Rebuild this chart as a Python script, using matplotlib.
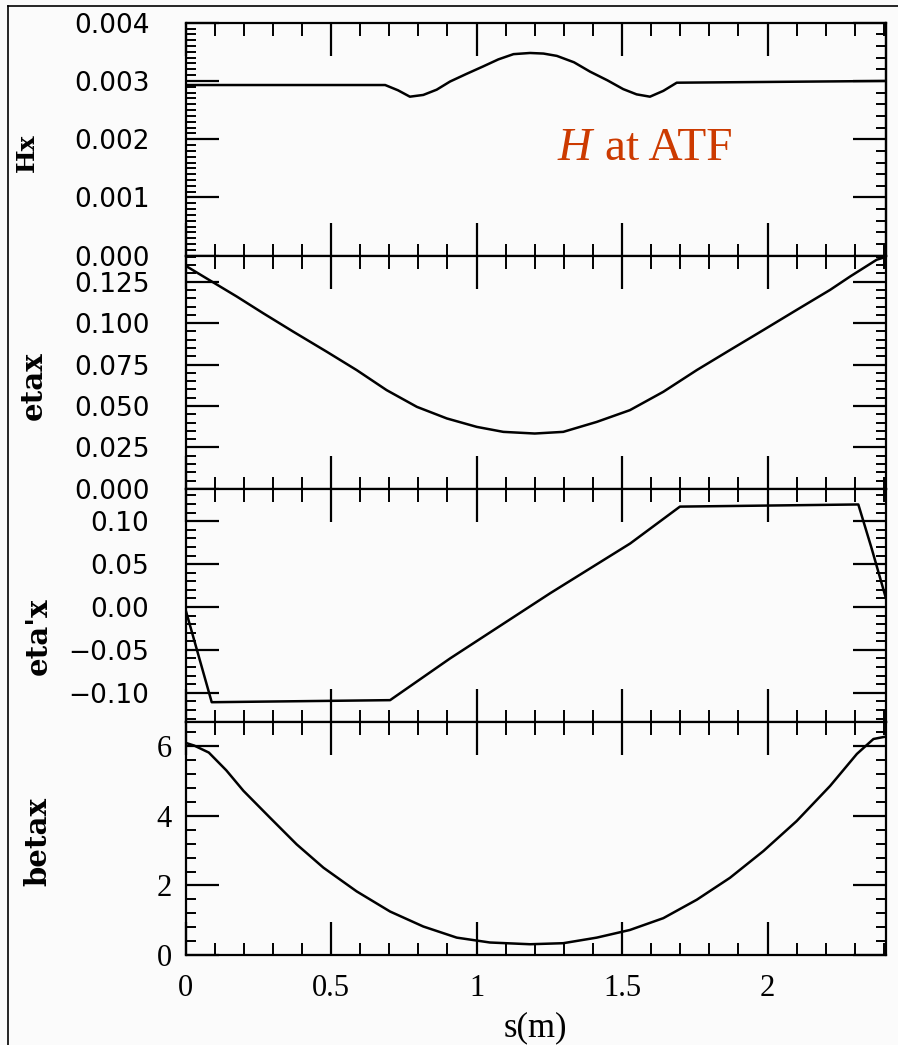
"""
Lattice functions (Hx, etax, eta'x, betax) along s for the ATF cell.
Four stacked panels sharing the s axis, scanned-plot look.
"""

import matplotlib
matplotlib.use('Agg')  # no display
import matplotlib.pyplot as plt
from matplotlib.ticker import MultipleLocator, FuncFormatter, NullFormatter
from matplotlib.lines import Line2D

# ---- data ----
s_hx = [0.0, 0.686, 0.730, 0.771, 0.817, 0.863, 0.909, 0.965, 1.023, 1.075,
        1.127, 1.184, 1.230, 1.276, 1.335, 1.390, 1.450, 1.504, 1.550, 1.596,
        1.642, 1.688, 2.407]
hx = [0.00293, 0.00293, 0.00284, 0.00273, 0.00276, 0.00285, 0.00299, 0.00312,
      0.00325, 0.00337, 0.00346, 0.00348, 0.00347, 0.00343, 0.00332, 0.00316,
      0.00301, 0.00286, 0.00277, 0.00273, 0.00283, 0.00297, 0.00300]

s_eta = [0.0, 0.084, 0.176, 0.267, 0.370, 0.485, 0.588, 0.691, 0.795, 0.898,
         1.001, 1.092, 1.200, 1.298, 1.413, 1.527, 1.642, 1.757, 1.871, 1.986,
         2.100, 2.215, 2.284, 2.375, 2.407]
etax = [0.1347, 0.1258, 0.1161, 0.1060, 0.0949, 0.0828, 0.0717, 0.0596, 0.0495,
        0.0425, 0.0374, 0.0344, 0.0334, 0.0344, 0.0404, 0.0475, 0.0586, 0.0717,
        0.0838, 0.0959, 0.1080, 0.1201, 0.1282, 0.1383, 0.1400]

s_etap = [0.0, 0.09, 0.703, 0.909, 1.253, 1.528, 1.699, 2.312, 2.358, 2.407]
etapx = [-0.003, -0.111, -0.1086, -0.060, 0.016, 0.074, 0.117, 0.1195, 0.068, 0.010]

s_beta = [0.0, 0.030, 0.080, 0.140, 0.199, 0.290, 0.382, 0.474, 0.588, 0.703,
          0.817, 0.932, 1.046, 1.184, 1.298, 1.413, 1.527, 1.642, 1.757, 1.871,
          1.986, 2.100, 2.215, 2.307, 2.364, 2.407]
betax = [6.10, 6.02, 5.82, 5.31, 4.72, 3.95, 3.18, 2.51, 1.83, 1.25, 0.82, 0.50,
         0.36, 0.31, 0.34, 0.50, 0.72, 1.06, 1.59, 2.22, 2.99, 3.85, 4.86, 5.78,
         6.21, 6.28]

x_ticks = [0, 0.5, 1, 1.5, 2]
x_max = 2.407

SERIF = 'Liberation Serif'
SANS = 'DejaVu Sans'
MINUS = '\u2212'


def fmt(decimals):
    def f(v, pos):
        txt = f"{v:.{decimals}f}"
        return txt.replace('-', MINUS)
    return FuncFormatter(f)


def set_ticks(ax):
    ax.tick_params(which='both', direction='in', color='black')
    ax.tick_params(axis='x', which='major', length=24, width=1.6)
    ax.tick_params(axis='x', which='minor', length=9, width=1.4)
    ax.tick_params(axis='y', which='major', length=24, width=1.6)
    ax.tick_params(axis='y', which='minor', length=7, width=1.4)


def style_axis(ax, ymajor, yminor, ylim):
    ax.set_xlim(0, x_max)
    ax.set_ylim(*ylim)
    ax.xaxis.set_major_locator(MultipleLocator(0.5))
    ax.xaxis.set_minor_locator(MultipleLocator(0.1))
    ax.yaxis.set_major_locator(MultipleLocator(ymajor))
    ax.yaxis.set_minor_locator(MultipleLocator(yminor))
    ax.tick_params(which='both', top=True, right=True)
    set_ticks(ax)
    for sp in ax.spines.values():
        sp.set_linewidth(1.6)
    ax.set_facecolor('#fbfbfb')


fig = plt.figure(figsize=(8.98, 10.45), dpi=100)
fig.patch.set_facecolor('#fbfbfb')
gs = fig.add_gridspec(4, 1, left=0.2066, right=0.9866, top=0.9783,
                      bottom=0.0861, hspace=0)
ax1 = fig.add_subplot(gs[0])
ax2 = fig.add_subplot(gs[1], sharex=ax1)
ax3 = fig.add_subplot(gs[2], sharex=ax1)
ax4 = fig.add_subplot(gs[3], sharex=ax1)

lw = 1.8
ax1.plot(s_hx, hx, color='black', linewidth=lw)
ax2.plot(s_eta, etax, color='black', linewidth=lw)
ax3.plot(s_etap, etapx, color='black', linewidth=lw)
ax4.plot(s_beta, betax, color='black', linewidth=lw)

style_axis(ax1, 0.001, 0.0001, (0, 0.004))
style_axis(ax2, 0.025, 0.005, (0, 0.1407))
style_axis(ax3, 0.05, 0.01, (-0.134, 0.1377))
style_axis(ax4, 2, 0.4, (0, 6.7))

# Hx: dense minor ticks on the left, coarser ones on the right
ax1.tick_params(which='both', right=False)
hx_right = ax1.secondary_yaxis('right')
hx_right.yaxis.set_major_locator(MultipleLocator(0.001))
hx_right.yaxis.set_minor_locator(MultipleLocator(0.0002))
hx_right.yaxis.set_major_formatter(NullFormatter())
set_ticks(hx_right)
hx_right.spines['right'].set_linewidth(1.6)

ax1.yaxis.set_major_formatter(fmt(3))
ax2.yaxis.set_major_formatter(fmt(3))
ax3.yaxis.set_major_formatter(fmt(2))
ax4.yaxis.set_major_formatter(FuncFormatter(lambda v, p: f"{v:g}"))

for ax in (ax1, ax2, ax3):
    ax.tick_params(axis='y', which='major', pad=26, labelsize=19)
    for lab in ax.get_yticklabels():
        lab.set_family(SANS)
    ax.tick_params(axis='x', labelbottom=False)

ax4.tick_params(axis='y', which='major', pad=10, labelsize=22)
ax4.tick_params(axis='x', which='major', pad=14, labelsize=22)
ax4.set_xticks(x_ticks)
ax4.xaxis.set_major_formatter(FuncFormatter(lambda v, p: f"{v:g}"))
for lab in ax4.get_yticklabels() + ax4.get_xticklabels():
    lab.set_family(SERIF)

ax4.set_xlabel('s(m)', fontsize=25, family=SERIF, labelpad=6)

# y labels, bold serif
ylabels = [(ax1, 'Hx', 18, -0.21, 0.443), (ax2, 'etax', 21, -0.196, 0.442),
           (ax3, "eta'x", 21, -0.19, 0.366), (ax4, 'betax', 21, -0.19, 0.486)]
for ax, txt, size, xc, yc in ylabels:
    ax.set_ylabel(txt, fontsize=size, family='DejaVu Serif', fontweight='bold')
    ax.yaxis.set_label_coords(xc, yc)

# red annotation
fig.text(0.621, 1 - 160 / 1045, 'H', color='#cc3a00', fontsize=34,
         family=SERIF, style='italic', ha='left', va='baseline')
fig.text(0.674, 1 - 160 / 1045, 'at ATF', color='#cc3a00', fontsize=34,
         family=SERIF, ha='left', va='baseline')

# frame of the scanned page
fig.add_artist(Line2D([0.0089, 0.0089], [0.0, 0.9943], transform=fig.transFigure,
                      color='black', linewidth=1.2))
fig.add_artist(Line2D([0.0089, 1.0], [0.9943, 0.9943], transform=fig.transFigure,
                      color='black', linewidth=1.2))

fig.savefig('out.png', dpi=100, facecolor=fig.get_facecolor())
plt.close(fig)
